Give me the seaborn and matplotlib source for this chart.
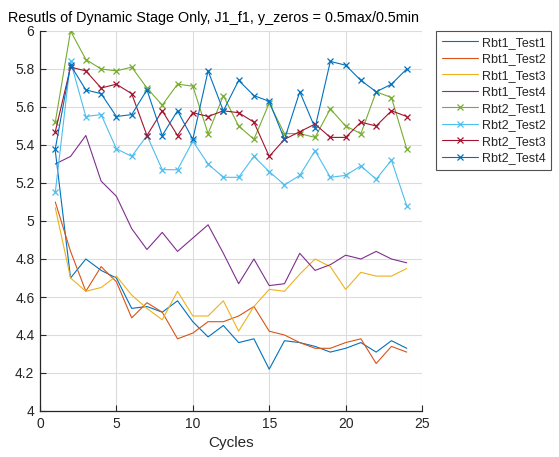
import numpy as np
import pandas as pd
import matplotlib
matplotlib.use("Agg")
import matplotlib.pyplot as plt
import seaborn as sns

cycles = list(range(1, 25))

rbt1_test1 = [5.37, 4.70, 4.80, 4.74, 4.70, 4.54, 4.55, 4.52, 4.58, 4.47, 4.39, 4.45,
              4.36, 4.38, 4.22, 4.37, 4.36, 4.34, 4.31, 4.33, 4.36, 4.31, 4.37, 4.33]
rbt1_test2 = [5.10, 4.84, 4.63, 4.76, 4.68, 4.49, 4.57, 4.52, 4.38, 4.41, 4.47, 4.47,
              4.50, 4.55, 4.42, 4.40, 4.36, 4.33, 4.33, 4.36, 4.38, 4.25, 4.34, 4.31]
rbt1_test3 = [5.07, 4.70, 4.63, 4.65, 4.71, 4.61, 4.54, 4.48, 4.63, 4.50, 4.50, 4.58,
              4.42, 4.55, 4.64, 4.63, 4.72, 4.80, 4.76, 4.64, 4.73, 4.71, 4.71, 4.75]
rbt1_test4 = [5.30, 5.34, 5.45, 5.21, 5.13, 4.96, 4.85, 4.94, 4.84, 4.91, 4.98, 4.83,
              4.67, 4.80, 4.66, 4.67, 4.83, 4.74, 4.77, 4.82, 4.80, 4.84, 4.80, 4.78]
rbt2_test1 = [5.52, 6.00, 5.85, 5.80, 5.79, 5.81, 5.70, 5.61, 5.72, 5.71, 5.46, 5.66,
              5.50, 5.43, 5.62, 5.46, 5.46, 5.44, 5.59, 5.50, 5.46, 5.68, 5.65, 5.38]
rbt2_test2 = [5.15, 5.84, 5.55, 5.56, 5.38, 5.34, 5.45, 5.27, 5.27, 5.42, 5.30, 5.23,
              5.23, 5.34, 5.26, 5.19, 5.24, 5.37, 5.23, 5.24, 5.29, 5.22, 5.32, 5.08]
rbt2_test3 = [5.47, 5.81, 5.79, 5.70, 5.72, 5.67, 5.45, 5.58, 5.45, 5.57, 5.55, 5.58,
              5.57, 5.52, 5.34, 5.43, 5.47, 5.51, 5.44, 5.44, 5.52, 5.50, 5.58, 5.55]
rbt2_test4 = [5.38, 5.82, 5.69, 5.67, 5.55, 5.56, 5.69, 5.45, 5.58, 5.43, 5.79, 5.58,
              5.74, 5.66, 5.63, 5.43, 5.68, 5.49, 5.84, 5.82, 5.74, 5.68, 5.72, 5.80]

series_names = ["Rbt1_Test1", "Rbt1_Test2", "Rbt1_Test3", "Rbt1_Test4",
                "Rbt2_Test1", "Rbt2_Test2", "Rbt2_Test3", "Rbt2_Test4"]
series_values = [rbt1_test1, rbt1_test2, rbt1_test3, rbt1_test4,
                 rbt2_test1, rbt2_test2, rbt2_test3, rbt2_test4]

x_ticks = [0, 5, 10, 15, 20, 25]
y_ticks = [4.0, 4.2, 4.4, 4.6, 4.8, 5.0, 5.2, 5.4, 5.6, 5.8, 6.0]
y_tick_labels = ["4", "4.2", "4.4", "4.6", "4.8", "5", "5.2", "5.4", "5.6", "5.8", "6"]

palette = ["#0072BD", "#D95319", "#EDB120", "#7E2F8E",
           "#77AC30", "#4DBEEE", "#A2142F", "#0072BD"]

sns.set_theme(style="white")
plt.rcParams["font.family"] = ["Liberation Sans", "DejaVu Sans"]

frames = []
for name, vals in zip(series_names, series_values):
    frames.append(pd.DataFrame({"Cycles": cycles, "Value": vals, "Series": name}))
df = pd.concat(frames, ignore_index=True)

fig = plt.figure(figsize=(5.59, 4.57), dpi=100)
ax = fig.add_axes([40 / 559, 1 - 411 / 457, 382 / 559, 380 / 457])

for name, color in zip(series_names, palette):
    sub = df[df["Series"] == name]
    marker = "x" if name.startswith("Rbt2") else None
    sns.lineplot(data=sub, x="Cycles", y="Value", ax=ax, color=color,
                 marker=marker, markersize=5, markeredgewidth=0.9,
                 markeredgecolor=color, linewidth=0.8, label=name,
                 estimator=None, sort=False)

ax.set_xlim(0, 25)
ax.set_ylim(4, 6)
ax.set_xticks(x_ticks)
ax.set_yticks(y_ticks)
ax.set_yticklabels(y_tick_labels)
ax.grid(True, color="#dcdcdc", linewidth=0.8)
ax.set_axisbelow(True)
for side in ["top", "right"]:
    ax.spines[side].set_visible(False)
for side in ["left", "bottom"]:
    ax.spines[side].set_color("#262626")
    ax.spines[side].set_linewidth(0.9)
ax.tick_params(axis="both", direction="in", length=4, width=0.8,
               colors="#262626", labelsize=10, left=True, bottom=True, pad=4)
ax.set_xlabel("Cycles", fontsize=11, color="#262626", labelpad=4)
ax.set_ylabel("")

fig.text(214 / 559, 1 - 18 / 457,
         "Resutls of Dynamic Stage Only, J1_f1, y_zeros = 0.5max/0.5min",
         ha="center", va="center", fontsize=10.4, color="black")

leg = ax.legend(loc="upper left", bbox_to_anchor=(436 / 559, 1 - 31 / 457),
                bbox_transform=fig.transFigure, borderaxespad=0, frameon=True,
                fancybox=False, fontsize=9, handlelength=2.9, handletextpad=0.3,
                labelspacing=0.36, borderpad=0.45)
leg.get_frame().set_edgecolor("#262626")
leg.get_frame().set_linewidth(0.8)

fig.savefig("out.png", dpi=100)
